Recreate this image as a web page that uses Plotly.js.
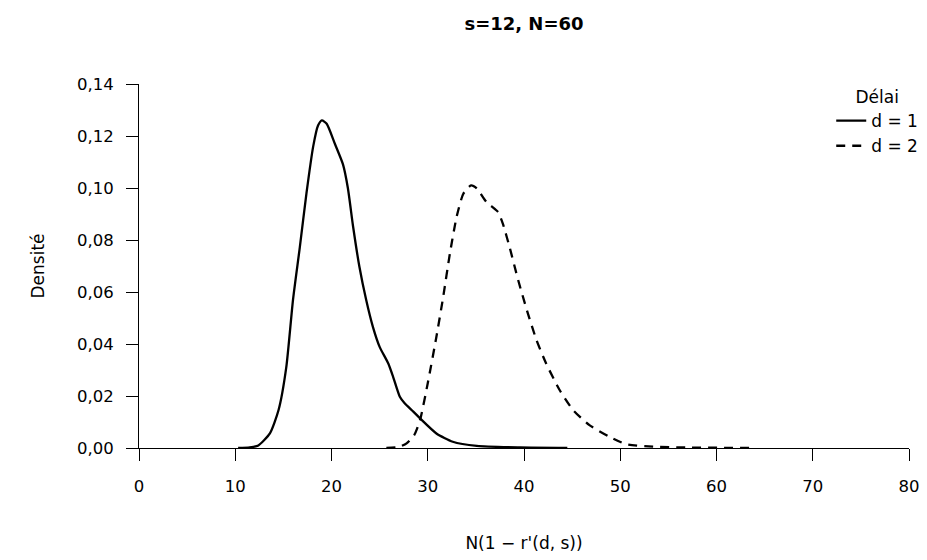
<!DOCTYPE html>
<html>
<head>
<meta charset="utf-8">
<script src="https://cdn.plot.ly/plotly-3.0.1.min.js"></script>
<style>html,body{margin:0;padding:0;background:#fff;}</style>
</head>
<body>
<div id="chart" style="width:927px;height:560px;"></div>
<script>
var chartTitle = "s=12, N=60";
var xTitle = "N(1 − r'(d, s))";
var yTitle = "Densité";
var legendTitle = "Délai";
var seriesNames = ["d = 1", "d = 2"];

var d1X = [10.3, 11.5, 12.4, 13.6, 14.5, 15.3, 16.0, 16.7, 17.4, 18.1, 18.6, 19.0, 19.5, 20.35, 21.2, 21.7, 22.25, 22.9, 23.6, 24.3, 25.0, 25.9, 26.4, 27.1, 27.6, 28.5, 29.2, 30.9, 32.6, 35.1, 39.6, 44.5];
var d1Y = [0, 0.0002, 0.001, 0.0056, 0.0146, 0.031, 0.057, 0.077, 0.098, 0.116, 0.124, 0.126, 0.1247, 0.117, 0.109, 0.100, 0.085, 0.0697, 0.057, 0.0466, 0.0389, 0.0325, 0.0274, 0.0197, 0.0172, 0.014, 0.0114, 0.0056, 0.0024, 0.0008, 0.0002, 0];

var d2X = [25.7, 27.0, 27.8, 28.6, 29.2, 30.0, 30.9, 31.6, 32.3, 33.0, 33.7, 34.5, 35.1, 36.1, 37.3, 37.8, 38.5, 39.4, 40.3, 41.3, 42.3, 43.7, 45.1, 46.8, 48.9, 50.6, 53.4, 56.8, 63.5];
var d2Y = [0, 0.0004, 0.0018, 0.005, 0.0108, 0.0249, 0.0428, 0.058, 0.0748, 0.0889, 0.0978, 0.101, 0.0998, 0.0946, 0.0908, 0.0863, 0.0773, 0.0645, 0.053, 0.0415, 0.0325, 0.0223, 0.0146, 0.0088, 0.0043, 0.0015, 0.0005, 0.0002, 0];

var xTicks = [0, 10, 20, 30, 40, 50, 60, 70, 80];
var yTicks = [0, 0.02, 0.04, 0.06, 0.08, 0.10, 0.12, 0.14];

var FONT = "DejaVu Sans, Liberation Sans, Arial, sans-serif";

var traces = [
  {x: d1X, y: d1Y, name: seriesNames[0], type: "scatter", mode: "lines",
   line: {color: "#000", width: 2.3, dash: "solid", shape: "spline", smoothing: 0.6}},
  {x: d2X, y: d2Y, name: seriesNames[1], type: "scatter", mode: "lines",
   line: {color: "#000", width: 2.3, dash: "9px,7px", shape: "spline", smoothing: 0.6}}
];

var layout = {
  width: 927, height: 560,
  paper_bgcolor: "#fff", plot_bgcolor: "#fff",
  separators: ",.",
  font: {family: FONT, size: 16, color: "#000"},
  margin: {l: 139, r: 18, t: 84, b: 112, autoexpand: false},
  title: {text: "<b>" + chartTitle + "</b>", font: {family: FONT, size: 18, color: "#000"},
          x: 0.5, xref: "paper", xanchor: "center", y: 1 - 24/560, yanchor: "middle"},
  xaxis: {
    range: [0, 80], tickvals: xTicks, ticktext: xTicks.map(String),
    showgrid: false, zeroline: false, showline: true, linecolor: "#000", linewidth: 1,
    ticks: "outside", ticklen: 12, tickcolor: "#000", tickwidth: 1,
    ticklabelstandoff: 11,
    tickfont: {family: FONT, size: 16.5, color: "#000"},
    title: {text: xTitle, font: {family: FONT, size: 17, color: "#000"}, standoff: 42},
    automargin: false, fixedrange: true
  },
  yaxis: {
    range: [0, 0.14], tickvals: yTicks, tickformat: ".2f",
    showgrid: false, zeroline: false, showline: true, linecolor: "#000", linewidth: 1,
    ticks: "outside", ticklen: 12, tickcolor: "#000", tickwidth: 1,
    ticklabelstandoff: 9,
    tickfont: {family: FONT, size: 16.5, color: "#000"},
    title: {text: yTitle, font: {family: FONT, size: 17, color: "#000"}, standoff: 28},
    automargin: false, fixedrange: true
  },
  showlegend: true,
  legend: {
    x: 0.899, xanchor: "left", y: 1 + 3/364, yanchor: "top",
    bgcolor: "rgba(0,0,0,0)", borderwidth: 0,
    font: {family: FONT, size: 17, color: "#000"},
    title: {text: legendTitle, side: "top center", font: {family: FONT, size: 17, color: "#000"}},
    tracegroupgap: 0, itemwidth: 30
  }
};

Plotly.newPlot("chart", traces, layout, {displayModeBar: false, staticPlot: true});
</script>
</body>
</html>
